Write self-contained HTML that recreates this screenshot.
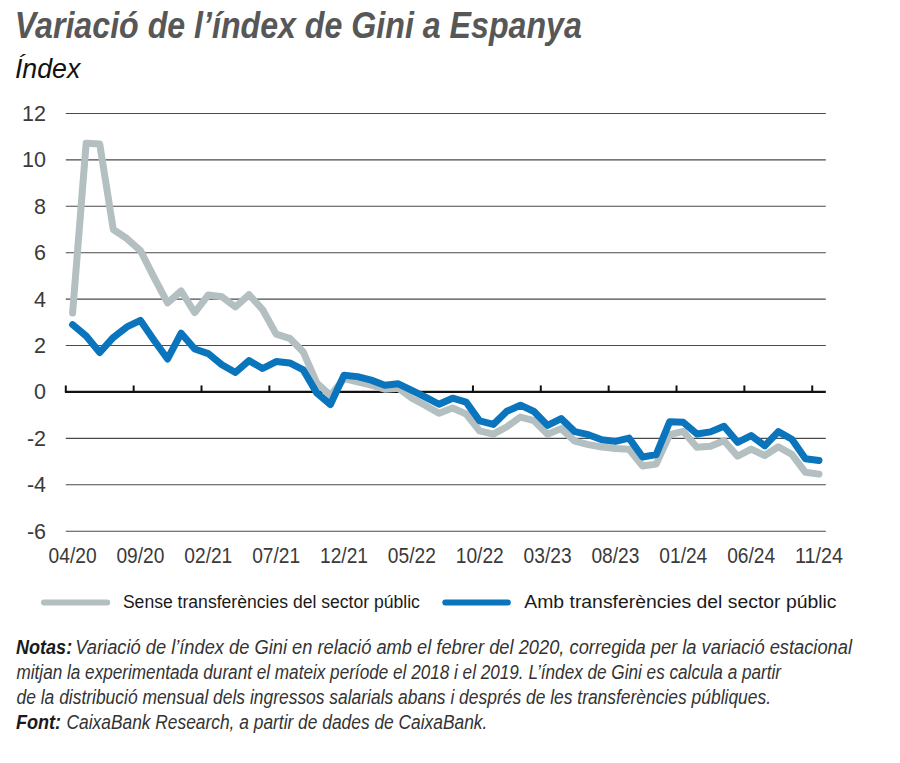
<!DOCTYPE html>
<html><head><meta charset="utf-8"><style>
html,body{margin:0;padding:0;background:#fff;}
body{width:900px;height:763px;overflow:hidden;position:relative;}
svg{position:absolute;left:0;top:0;}
text{font-family:"Liberation Sans",sans-serif;}
.title{font-size:36.5px;font-weight:bold;font-style:italic;fill:#575757;}
.sub{font-size:27px;font-style:italic;fill:#111;}
.ax{font-size:21.5px;fill:#3a3a3a;}
.leg{font-size:17.5px;fill:#1a1a1a;}
.nb{font-size:20px;font-weight:bold;font-style:italic;fill:#1a1a1a;}
.ni{font-size:20px;font-style:italic;fill:#333;}
</style></head><body>
<svg width="900" height="763" viewBox="0 0 900 763">
<line x1="65.80" y1="113.43" x2="825.80" y2="113.43" stroke="#4a4a4a" stroke-width="1.1"/>
<line x1="65.80" y1="159.85" x2="825.80" y2="159.85" stroke="#4a4a4a" stroke-width="1.1"/>
<line x1="65.80" y1="206.27" x2="825.80" y2="206.27" stroke="#4a4a4a" stroke-width="1.1"/>
<line x1="65.80" y1="252.69" x2="825.80" y2="252.69" stroke="#4a4a4a" stroke-width="1.1"/>
<line x1="65.80" y1="299.11" x2="825.80" y2="299.11" stroke="#4a4a4a" stroke-width="1.1"/>
<line x1="65.80" y1="345.53" x2="825.80" y2="345.53" stroke="#4a4a4a" stroke-width="1.1"/>
<line x1="65.80" y1="438.37" x2="825.80" y2="438.37" stroke="#4a4a4a" stroke-width="1.1"/>
<line x1="65.80" y1="484.79" x2="825.80" y2="484.79" stroke="#4a4a4a" stroke-width="1.1"/>
<line x1="65.80" y1="531.21" x2="825.80" y2="531.21" stroke="#4a4a4a" stroke-width="1.1"/>
<line x1="64.90" y1="391.95" x2="825.80" y2="391.95" stroke="#111" stroke-width="2.2"/>
<line x1="65.80" y1="385.45" x2="65.80" y2="391.95" stroke="#111" stroke-width="2"/>
<line x1="133.66" y1="385.45" x2="133.66" y2="391.95" stroke="#111" stroke-width="2"/>
<line x1="201.51" y1="385.45" x2="201.51" y2="391.95" stroke="#111" stroke-width="2"/>
<line x1="269.37" y1="385.45" x2="269.37" y2="391.95" stroke="#111" stroke-width="2"/>
<line x1="337.23" y1="385.45" x2="337.23" y2="391.95" stroke="#111" stroke-width="2"/>
<line x1="405.09" y1="385.45" x2="405.09" y2="391.95" stroke="#111" stroke-width="2"/>
<line x1="472.94" y1="385.45" x2="472.94" y2="391.95" stroke="#111" stroke-width="2"/>
<line x1="540.80" y1="385.45" x2="540.80" y2="391.95" stroke="#111" stroke-width="2"/>
<line x1="608.66" y1="385.45" x2="608.66" y2="391.95" stroke="#111" stroke-width="2"/>
<line x1="676.51" y1="385.45" x2="676.51" y2="391.95" stroke="#111" stroke-width="2"/>
<line x1="744.37" y1="385.45" x2="744.37" y2="391.95" stroke="#111" stroke-width="2"/>
<line x1="812.23" y1="385.45" x2="812.23" y2="391.95" stroke="#111" stroke-width="2"/>
<text x="46.00" y="120.93" text-anchor="end" class="ax">12</text>
<text x="46.00" y="167.35" text-anchor="end" class="ax">10</text>
<text x="46.00" y="213.77" text-anchor="end" class="ax">8</text>
<text x="46.00" y="260.19" text-anchor="end" class="ax">6</text>
<text x="46.00" y="306.61" text-anchor="end" class="ax">4</text>
<text x="46.00" y="353.03" text-anchor="end" class="ax">2</text>
<text x="46.00" y="399.45" text-anchor="end" class="ax">0</text>
<text x="46.00" y="445.87" text-anchor="end" class="ax">-2</text>
<text x="46.00" y="492.29" text-anchor="end" class="ax">-4</text>
<text x="46.00" y="538.71" text-anchor="end" class="ax">-6</text>
<text x="72.59" y="563.00" text-anchor="middle" class="ax" textLength="48" lengthAdjust="spacingAndGlyphs">04/20</text>
<text x="140.44" y="563.00" text-anchor="middle" class="ax" textLength="48" lengthAdjust="spacingAndGlyphs">09/20</text>
<text x="208.30" y="563.00" text-anchor="middle" class="ax" textLength="48" lengthAdjust="spacingAndGlyphs">02/21</text>
<text x="276.16" y="563.00" text-anchor="middle" class="ax" textLength="48" lengthAdjust="spacingAndGlyphs">07/21</text>
<text x="344.01" y="563.00" text-anchor="middle" class="ax" textLength="48" lengthAdjust="spacingAndGlyphs">12/21</text>
<text x="411.87" y="563.00" text-anchor="middle" class="ax" textLength="48" lengthAdjust="spacingAndGlyphs">05/22</text>
<text x="479.73" y="563.00" text-anchor="middle" class="ax" textLength="48" lengthAdjust="spacingAndGlyphs">10/22</text>
<text x="547.59" y="563.00" text-anchor="middle" class="ax" textLength="48" lengthAdjust="spacingAndGlyphs">03/23</text>
<text x="615.44" y="563.00" text-anchor="middle" class="ax" textLength="48" lengthAdjust="spacingAndGlyphs">08/23</text>
<text x="683.30" y="563.00" text-anchor="middle" class="ax" textLength="48" lengthAdjust="spacingAndGlyphs">01/24</text>
<text x="751.16" y="563.00" text-anchor="middle" class="ax" textLength="48" lengthAdjust="spacingAndGlyphs">06/24</text>
<text x="819.01" y="563.00" text-anchor="middle" class="ax" textLength="48" lengthAdjust="spacingAndGlyphs">11/24</text>
<path d="M72.59 313.04 L86.16 143.14 L99.73 144.07 L113.30 229.48 L126.87 238.53 L140.44 250.60 L154.01 277.29 L167.59 302.82 L181.16 290.99 L194.73 312.57 L208.30 294.93 L221.87 296.79 L235.44 307.00 L249.01 294.70 L262.59 309.55 L276.16 334.16 L289.73 338.33 L303.30 352.03 L316.87 383.13 L330.44 395.43 L344.01 378.72 L357.59 381.97 L371.16 385.22 L384.73 389.16 L398.30 388.24 L411.87 398.22 L425.44 405.41 L439.01 413.30 L452.59 407.96 L466.16 414.00 L479.73 430.94 L493.30 434.19 L506.87 426.76 L520.44 417.02 L534.01 420.73 L547.59 434.19 L561.16 428.62 L574.73 441.16 L588.30 444.64 L601.87 446.96 L615.44 448.58 L629.01 449.28 L642.59 465.99 L656.16 464.13 L669.73 434.66 L683.30 431.41 L696.87 447.19 L710.44 446.26 L724.01 440.69 L737.59 456.24 L751.16 449.05 L764.73 455.55 L778.30 446.73 L791.87 454.38 L805.44 472.26 L819.01 474.11" fill="none" stroke="#b4bfc2" stroke-width="7" stroke-linejoin="round" stroke-linecap="round"/>
<path d="M72.59 324.64 L86.16 336.01 L99.73 352.49 L113.30 337.41 L126.87 326.96 L140.44 320.46 L154.01 340.19 L167.59 358.99 L181.16 333.23 L194.73 349.01 L208.30 353.65 L221.87 364.79 L235.44 372.45 L249.01 360.62 L262.59 368.51 L276.16 361.54 L289.73 362.94 L303.30 369.90 L316.87 393.11 L330.44 404.48 L344.01 375.24 L357.59 376.63 L371.16 380.11 L384.73 385.22 L398.30 383.83 L411.87 390.33 L425.44 397.06 L439.01 404.25 L452.59 398.22 L466.16 402.16 L479.73 420.96 L493.30 424.44 L506.87 411.21 L520.44 405.18 L534.01 411.45 L547.59 425.37 L561.16 418.64 L574.73 431.64 L588.30 434.66 L601.87 439.76 L615.44 441.39 L629.01 438.14 L642.59 456.94 L656.16 454.62 L669.73 421.66 L683.30 422.36 L696.87 433.96 L710.44 431.87 L724.01 426.30 L737.59 442.32 L751.16 435.58 L764.73 445.80 L778.30 431.64 L791.87 439.30 L805.44 458.79 L819.01 460.42" fill="none" stroke="#0a74bc" stroke-width="7" stroke-linejoin="round" stroke-linecap="round"/>
<line x1="44" y1="602.5" x2="107.2" y2="602.5" stroke="#b4bfc2" stroke-width="6" stroke-linecap="round"/>
<line x1="445.3" y1="602.5" x2="507.8" y2="602.5" stroke="#0a74bc" stroke-width="6" stroke-linecap="round"/>
<text x="14.80" y="38.20" class="title" textLength="567.02" lengthAdjust="spacingAndGlyphs">Variació de l’índex de Gini a Espanya</text>
<text x="14.90" y="77.80" class="sub" textLength="65.42" lengthAdjust="spacingAndGlyphs">Índex</text>
<text x="122.90" y="607.80" class="leg" textLength="297.01" lengthAdjust="spacingAndGlyphs">Sense transferències del sector públic</text>
<text x="524.30" y="607.80" class="leg" textLength="312.20" lengthAdjust="spacingAndGlyphs">Amb transferències del sector públic</text>
<text x="16.00" y="653.80" class="nb" textLength="56.14" lengthAdjust="spacingAndGlyphs">Notas:</text>
<text x="75.30" y="653.80" class="ni" textLength="776.70" lengthAdjust="spacingAndGlyphs">Variació de l’índex de Gini en relació amb el febrer del 2020, corregida per la variació estacional</text>
<text x="16.50" y="679.10" class="ni" textLength="764.50" lengthAdjust="spacingAndGlyphs">mitjan la experimentada durant el mateix període el 2018 i el 2019. L’índex de Gini es calcula a partir</text>
<text x="16.50" y="704.00" class="ni" textLength="754.51" lengthAdjust="spacingAndGlyphs">de la distribució mensual dels ingressos salarials abans i després de les transferències públiques.</text>
<text x="16.00" y="728.50" class="nb" textLength="45.15" lengthAdjust="spacingAndGlyphs">Font:</text>
<text x="66.50" y="728.50" class="ni" textLength="420.82" lengthAdjust="spacingAndGlyphs">CaixaBank Research, a partir de dades de CaixaBank.</text>
</svg>
</body></html>
